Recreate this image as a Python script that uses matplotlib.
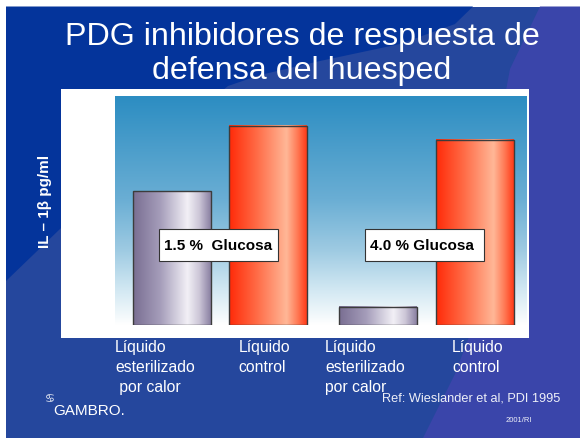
import numpy as np
import matplotlib
matplotlib.use("Agg")
import matplotlib.pyplot as plt
from matplotlib.colors import LinearSegmentedColormap
from matplotlib.patches import Rectangle, Polygon

plt.rcParams["font.family"] = ["Liberation Sans", "DejaVu Sans"]

# datos (escala arbitraria, el eje no tiene marcas)
categorias = ["Líquido\nesterilizado\n por calor", "Líquido\ncontrol",
              "Líquido\nesterilizado\npor calor", "Líquido\ncontrol"]
il1b = [58.5, 87.0, 8.0, 81.0]
tipo = ["calor", "control", "calor", "control"]
grupos = ["1.5 %  Glucosa", "4.0 % Glucosa"]

W, H = 580, 439
fig = plt.figure(figsize=(5.8, 4.39), dpi=100)
fig.patch.set_facecolor("white")

# fondo de la diapositiva (coordenadas en pixeles)
bg = fig.add_axes([0, 0, 1, 1], zorder=0)
bg.set_xlim(0, W)
bg.set_ylim(H, 0)
bg.axis("off")
bg.add_patch(Rectangle((6, 7.5), W - 6, H - 7.5, color="#25479d", lw=0))
oscuro = [(6, 7.5), (473, 7.5), (455, 25), (400, 45), (320, 62), (260, 76),
          (228, 87), (150, 150), (60, 230), (6, 282)]
bg.add_patch(Polygon(oscuro, closed=True, color="#04349b", lw=0))
lila_bg = [(540, 7.5), (W, 7.5), (W, H), (423, H), (455, 375), (472, 330),
           (486, 240), (495, 150), (510, 70)]
bg.add_patch(Polygon(lila_bg, closed=True, color="#3a45aa", lw=0))
bg.add_patch(Rectangle((61, 90), 529 - 61, 339 - 90, color="white", lw=0))

# area del grafico
ax = fig.add_axes([115 / W, 1 - 326 / H, (527 - 115) / W, (326 - 97) / H], zorder=1)
cielo = LinearSegmentedColormap.from_list("cielo", [
    (0, "#ffffff"), (0.03, "#f5fafc"), (0.16, "#d0e7f2"), (0.33, "#9dcae2"),
    (0.55, "#6aaed4"), (0.77, "#4c9ecb"), (1, "#2c8dc2")])
ax.imshow(np.linspace(0, 1, 256).reshape(-1, 1), extent=[0, 1, 0, 1],
          transform=ax.transAxes, origin="lower", cmap=cielo, aspect="auto", zorder=0)

lila = LinearSegmentedColormap.from_list("lila", [
    (0, "#796e92"), (0.35, "#a59dba"), (0.7, "#f2f0f6"), (0.85, "#cdc7d8"), (1, "#8a80a2")])
rojo = LinearSegmentedColormap.from_list("rojo", [
    (0, "#ff2a08"), (0.35, "#ff6a45"), (0.74, "#ffb797"), (0.88, "#ff7a55"), (1, "#ff3a18")])

pos = np.array([0, 1, 2.15, 3.16])
barras = ax.bar(pos, il1b, width=0.81, facecolor="none", edgecolor="#3c3c3c",
                linewidth=1.0, zorder=3)
for b, t in zip(barras, tipo):
    cm = lila if t == "calor" else rojo
    ax.imshow(np.linspace(0, 1, 256).reshape(1, -1),
              extent=[b.get_x(), b.get_x() + b.get_width(), 0, b.get_height()],
              cmap=cm, aspect="auto", zorder=2)

ax.set_xlim(-0.595, 3.70)
ax.set_ylim(0, 100)
ax.axis("off")

# textos y recuadros
ov = fig.add_axes([0, 0, 1, 1], zorder=2)
ov.set_xlim(0, W)
ov.set_ylim(H, 0)
ov.axis("off")

ov.text(302, 44.5, "PDG inhibidores de respuesta de", ha="center", va="baseline",
        fontsize=23.2, color="white")
ov.text(302, 78.5, "defensa del huesped", ha="center", va="baseline",
        fontsize=23.2, color="white")

ov.text(45, 201, "IL – 1β pg/ml", rotation=90, ha="center", va="center",
        fontsize=11, fontweight="bold", color="white")

for x0, g in zip([159, 365], grupos):
    ov.add_patch(Rectangle((x0, 229.5), 119, 32, facecolor="white",
                           edgecolor="#333333", lw=0.8))
    ov.text(x0 + 5, 246.5, g, ha="left", va="center", fontsize=11,
            fontweight="bold", color="black")

col_x = [115, 238.6, 325, 452]
for x0, cat in zip(col_x, categorias):
    for i, linea in enumerate(cat.split("\n")):
        ov.text(x0, 352 + i * 19.8, linea, ha="left", va="baseline",
                fontsize=11.3, color="white")

ov.text(381.5, 401.5, "Ref: Wieslander et al, PDI 1995", ha="left", va="baseline",
        fontsize=9.2, color="#eef0f8")
ov.text(506, 422, "2001/RI", ha="left", va="baseline", fontsize=5.5, color="#eef0f8")
ov.text(53.5, 415, "GAMBRO.", ha="left", va="baseline", fontsize=11, color="white")
ov.text(50, 399, "♋", family="DejaVu Sans", ha="center", va="center",
        fontsize=8, fontweight="bold", color="white")

plt.savefig("out.png", dpi=100)
